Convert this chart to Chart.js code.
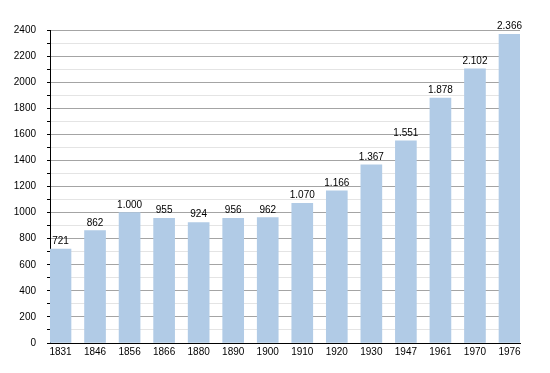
<!DOCTYPE html>
<html>
<head>
<meta charset="utf-8">
<script src="https://cdn.jsdelivr.net/npm/chart.js@4/dist/chart.umd.min.js"></script>
<style>
  html, body { margin: 0; padding: 0; background: #fff; }
  #wrap { width: 550px; height: 373px; }
</style>
</head>
<body>
<div id="wrap"><canvas id="population-chart"></canvas></div>
<script>
const years = ["1831", "1846", "1856", "1866", "1880", "1890", "1900", "1910", "1920", "1930", "1947", "1961", "1970", "1976"];
const population = [721, 862, 1000, 955, 924, 956, 962, 1070, 1166, 1367, 1551, 1878, 2102, 2366];
const yMax = 2400;
const yStep = 100;

// half a bar width (in category units) so first and last bar sit flush with the frame
const edge = 0.304;

function formatThousands(v) {
    return String(v).replace(/\B(?=(\d{3})+(?!\d))/g, ".");
}

const barLabels = {
    id: "barLabels",
    afterDatasetsDraw(chart) {
        const ctx = chart.ctx;
        ctx.save();
        ctx.font = "10px 'Liberation Sans', Arial, sans-serif";
        ctx.fillStyle = "#000";
        ctx.textAlign = "center";
        ctx.textBaseline = "alphabetic";
        chart.getDatasetMeta(0).data.forEach(function (bar, i) {
            ctx.fillText(formatThousands(population[i]), bar.x, bar.y - 5);
        });
        ctx.restore();
    },
};

Chart.defaults.font.family = "'Liberation Sans', Arial, sans-serif";
Chart.defaults.font.size = 10;
Chart.defaults.color = "#000";

new Chart("population-chart", {
    type: "bar",
    data: {
        datasets: [
            {
                data: population.map(function (v, i) { return { x: i, y: v }; }),
                backgroundColor: "#b1cbe6",
                borderWidth: 0,
                barThickness: 21,
            },
        ],
    },
    options: {
        responsive: true,
        maintainAspectRatio: false,
        animation: false,
        layout: { padding: { top: 30, right: 30, left: 0, bottom: 0 } },
        plugins: {
            legend: { display: false },
            tooltip: { enabled: false },
        },
        scales: {
            x: {
                type: "linear",
                offset: false,
                min: -edge,
                max: years.length - 1 + edge,
                afterBuildTicks: function (scale) {
                    scale.ticks = years.map(function (_, i) { return { value: i }; });
                },
                afterFit: function (scale) { scale.height = 30; },
                ticks: {
                    padding: 3,
                    maxRotation: 0,
                    autoSkip: false,
                    callback: function (value) { return years[value]; },
                },
                grid: { display: false, drawTicks: false },
                border: { display: true, color: "#000", width: 1 },
            },
            y: {
                min: 0,
                max: yMax,
                afterFit: function (scale) { scale.width = 50; },
                ticks: {
                    stepSize: yStep,
                    padding: 11,
                    autoSkip: false,
                    callback: function (value) { return value % 200 === 0 ? value : ""; },
                },
                grid: {
                    color: function (c) { return c.tick && c.tick.value % 200 === 0 ? "#a4a4a4" : "#e4e4e4"; },
                    tickColor: "#000",
                    tickLength: 3,
                    lineWidth: 1,
                },
                border: { display: true, color: "#000", width: 1 },
            },
        },
    },
    plugins: [barLabels],
});
</script>
</body>
</html>
